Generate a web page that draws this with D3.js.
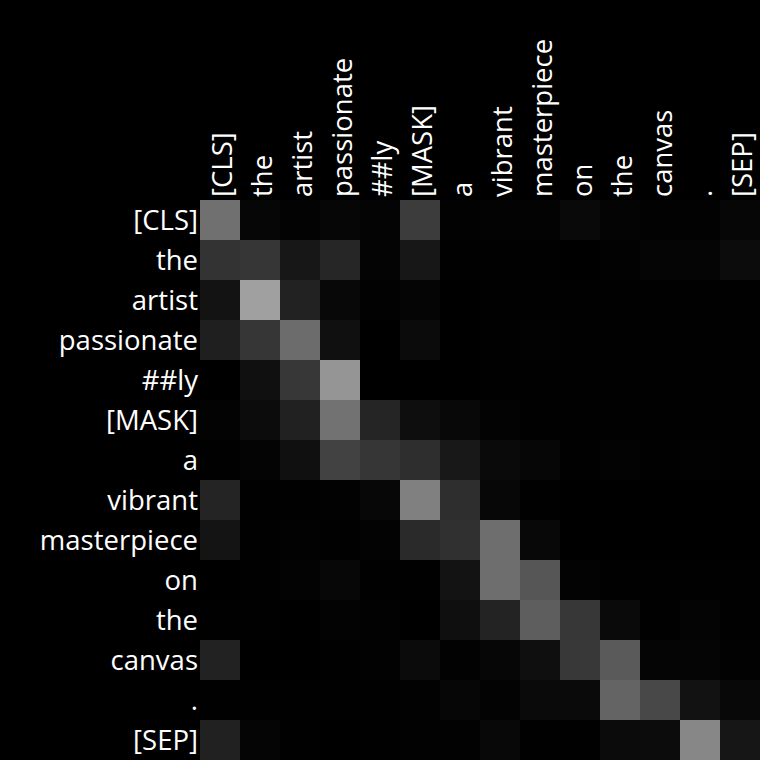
<!DOCTYPE html>
<html>
<head>
<meta charset="utf-8">
<script src="https://cdn.jsdelivr.net/npm/d3@7"></script>
<style>
  html, body { margin: 0; padding: 0; background: #000; }
  svg { display: block; }
</style>
</head>
<body>
<div id="chart"></div>
<script>
const tokens = ["[CLS]", "the", "artist", "passionate", "##ly", "[MASK]", "a", "vibrant", "masterpiece", "on", "the", "canvas", ".", "[SEP]"];

const attention = [
  [0.439, 0.024, 0.012, 0.024, 0.016, 0.235, 0.008, 0.012, 0.012, 0.035, 0.016, 0.008, 0.008, 0.024],
  [0.200, 0.212, 0.090, 0.149, 0.016, 0.090, 0.004, 0.004, 0.004, 0.000, 0.008, 0.020, 0.020, 0.047],
  [0.075, 0.627, 0.133, 0.031, 0.008, 0.020, 0.000, 0.004, 0.004, 0.004, 0.004, 0.004, 0.004, 0.004],
  [0.122, 0.212, 0.424, 0.063, 0.000, 0.043, 0.000, 0.004, 0.008, 0.004, 0.004, 0.004, 0.004, 0.004],
  [0.000, 0.063, 0.216, 0.584, 0.000, 0.000, 0.000, 0.004, 0.004, 0.004, 0.004, 0.004, 0.004, 0.004],
  [0.012, 0.047, 0.129, 0.447, 0.145, 0.055, 0.031, 0.012, 0.004, 0.004, 0.004, 0.004, 0.004, 0.004],
  [0.004, 0.016, 0.063, 0.259, 0.212, 0.180, 0.094, 0.039, 0.024, 0.004, 0.012, 0.004, 0.008, 0.004],
  [0.141, 0.004, 0.004, 0.008, 0.027, 0.502, 0.180, 0.027, 0.004, 0.000, 0.000, 0.000, 0.000, 0.000],
  [0.078, 0.004, 0.008, 0.004, 0.012, 0.165, 0.188, 0.431, 0.031, 0.000, 0.000, 0.000, 0.000, 0.000],
  [0.000, 0.004, 0.012, 0.027, 0.004, 0.004, 0.075, 0.431, 0.337, 0.012, 0.004, 0.004, 0.004, 0.004],
  [0.004, 0.004, 0.000, 0.012, 0.008, 0.000, 0.059, 0.137, 0.369, 0.216, 0.039, 0.004, 0.016, 0.004],
  [0.133, 0.000, 0.000, 0.004, 0.008, 0.043, 0.008, 0.024, 0.059, 0.220, 0.353, 0.020, 0.020, 0.008],
  [0.004, 0.004, 0.004, 0.004, 0.004, 0.008, 0.024, 0.012, 0.039, 0.039, 0.392, 0.282, 0.071, 0.031],
  [0.129, 0.020, 0.004, 0.000, 0.004, 0.008, 0.008, 0.031, 0.004, 0.004, 0.043, 0.047, 0.529, 0.086]
];

const W = 760, H = 760;
const margin = { top: 200, left: 200, right: 0, bottom: 0 };
const fontSize = 27.5;
const fontFamily = "'Open Sans', 'Noto Sans', sans-serif";

const svg = d3.select("#chart").append("svg")
  .attr("width", W).attr("height", H)
  .style("background", "#000");

const idx = d3.range(tokens.length);
const x = d3.scaleBand().domain(idx).range([margin.left, W - margin.right]).padding(0);
const y = d3.scaleBand().domain(idx).range([margin.top, H - margin.bottom]).padding(0);
const color = d3.scaleLinear().domain([0, 1]).range(["#000000", "#ffffff"]).clamp(true);

const cells = [];
attention.forEach((row, i) => row.forEach((v, j) => cells.push({ i, j, v })));

svg.append("g").selectAll("rect").data(cells).join("rect")
  .attr("x", d => x(d.j))
  .attr("y", d => y(d.i))
  .attr("width", x.bandwidth())
  .attr("height", y.bandwidth())
  .attr("fill", d => color(d.v))
  .attr("shape-rendering", "crispEdges");

// Row labels (left)
svg.append("g").selectAll("text").data(idx).join("text")
  .attr("x", margin.left - 2)
  .attr("y", d => y(d) + y.bandwidth() / 2)
  .attr("dy", "0.35em")
  .attr("text-anchor", "end")
  .attr("fill", "#ffffff")
  .style("font-family", fontFamily)
  .style("font-size", fontSize + "px")
  .text(d => tokens[d]);

// Column labels (top, rotated)
svg.append("g").selectAll("text").data(idx).join("text")
  .attr("transform", d => `translate(${x(d) + x.bandwidth() / 2}, ${margin.top - 3}) rotate(-90)`)
  .attr("dy", "0.42em")
  .attr("text-anchor", "start")
  .attr("fill", "#ffffff")
  .style("font-family", fontFamily)
  .style("font-size", fontSize + "px")
  .text(d => tokens[d]);
</script>
</body>
</html>
